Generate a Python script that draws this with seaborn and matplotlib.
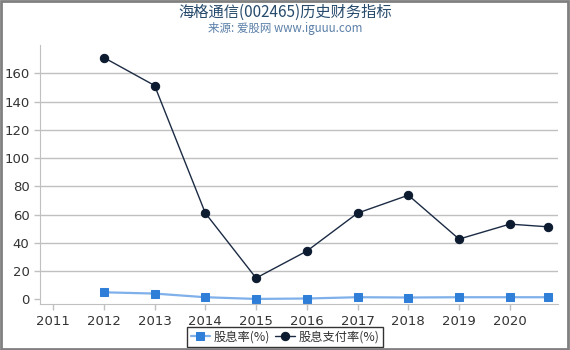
import pandas as pd
import matplotlib.pyplot as plt
import seaborn as sns

years = [2012, 2013, 2014, 2015, 2016, 2017, 2018, 2019, 2020, 2020.75]
dividend_yield = [4.9, 4.0, 1.4, 0.2, 0.5, 1.4, 1.2, 1.4, 1.4, 1.4]
payout_ratio = [171.2, 151.4, 61.0, 15.0, 34.1, 61.0, 73.7, 42.6, 53.2, 51.3]
xticks = [2011, 2012, 2013, 2014, 2015, 2016, 2017, 2018, 2019, 2020]

df = pd.DataFrame({'year': years, 'yield': dividend_yield, 'payout': payout_ratio})

sns.set_style('white')
plt.rcParams['font.family'] = ['Noto Sans CJK SC', 'DejaVu Sans']

fig = plt.figure(figsize=(5.7, 3.5), dpi=100)
ax = fig.add_axes([0.070, 0.131, 0.909, 0.740])

sns.lineplot(data=df, x='year', y='yield', ax=ax, color='#7fb0ea', linewidth=1.6,
             marker='s', markersize=6, markerfacecolor='#2f7ed8', markeredgecolor='#2f7ed8',
             label='股息率(%)')
sns.lineplot(data=df, x='year', y='payout', ax=ax, color='#1c2b44', linewidth=1.0,
             marker='o', markersize=6, markerfacecolor='#0d1b30', markeredgecolor='#0d1b30',
             label='股息支付率(%)')

ax.set_xlim(2010.74, 2020.95)
ax.set_ylim(-3.5, 180)
ax.set_xticks(xticks)
ax.set_xticklabels([str(x) for x in xticks], family='DejaVu Sans')
ax.set_yticks(range(0, 161, 20))
ax.set_yticklabels([str(y) for y in range(0, 161, 20)], family='DejaVu Sans')
ax.set_xlabel('')
ax.set_ylabel('')

for y in range(20, 161, 20):
    ax.axhline(y, color='#c0c0c0', linewidth=1, zorder=0)

for s in ['top', 'right']:
    ax.spines[s].set_visible(False)
ax.spines['left'].set_color('#c0c0c0')
ax.spines['bottom'].set_color('#c0c0c0')
ax.tick_params(axis='both', colors='#c0c0c0', labelcolor='#333333', labelsize=9.5,
               length=4, width=1, direction='out')
ax.tick_params(axis='x', bottom=True)
ax.tick_params(axis='y', left=True)

leg = ax.legend(loc='lower center', bbox_to_anchor=(0.5, 0.008), bbox_transform=fig.transFigure,
                ncol=2, frameon=True, fontsize=8.8, handlelength=1.6, handletextpad=0.3,
                columnspacing=0.4, borderpad=0.3, borderaxespad=0, fancybox=False)
leg.get_frame().set_edgecolor('black')
leg.get_frame().set_linewidth(1)
for t in leg.get_texts():
    t.set_color('#333333')

fig.text(0.5, 0.965, '海格通信(002465)历史财务指标', ha='center', va='center',
         fontsize=11, color='#274b6d')
fig.text(0.5, 0.918, '来源: 爱股网 www.iguuu.com', ha='center', va='center',
         fontsize=8.3, color='#5a7fa8')

fig.patches.append(plt.Rectangle((0.002, 0.003), 0.995, 0.994, transform=fig.transFigure,
                                 fill=False, edgecolor='#808080', linewidth=2))

fig.savefig('out.png', dpi=100)
